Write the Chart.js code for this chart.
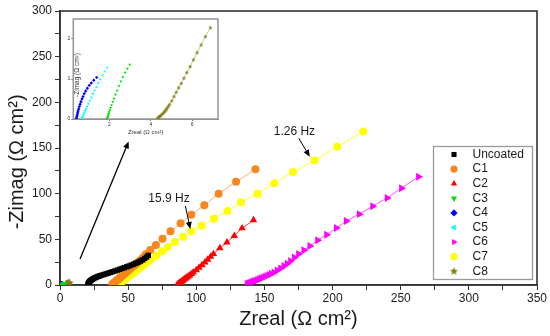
<!DOCTYPE html>
<html>
<head>
<meta charset="utf-8">
<script src="https://cdn.jsdelivr.net/npm/chart.js@4.4.1/dist/chart.umd.min.js"></script>
<style>
  body { margin: 0; background: #fff; }
  #wrap { position: relative; width: 550px; height: 336px; }
  #main { position: absolute; left: 0; top: 0; }
  #inset { position: absolute; left: 62px; top: 14px; }
</style>
</head>
<body>
<div id="wrap">
  <canvas id="main" width="550" height="336"></canvas>
  <canvas id="inset" width="160" height="126"></canvas>
</div>
<script>
// values (Ω cm²)
const uncoatedX = [20.5, 20.8, 21.2, 21.7, 22.3, 23, 23.8, 24.7, 25.7, 26.8, 28, 29.3, 30.7, 32.2, 33.8, 35.4, 37, 38.7, 40.4, 42.1, 43.8, 45.5, 47.2, 48.9, 50.6, 52.3, 54, 55.7, 57.4, 59, 60.6, 62.1, 63.5, 64.8]
const uncoatedY = [0.6, 1.7, 2.8, 3.8, 4.7, 5.5, 6.3, 7.1, 7.9, 8.7, 9.4, 10.1, 10.8, 11.5, 12.2, 13, 13.8, 14.6, 15.4, 16.3, 17.2, 18.1, 19, 19.9, 20.8, 21.8, 22.8, 23.9, 25, 26.2, 27.5, 29, 30.6, 32.4]

const c1X = [38.2, 38.6, 39.1, 39.7, 40.4, 41.2, 42, 42.9, 43.8, 44.8, 45.8, 46.9, 48, 49.2, 50.4, 51.7, 53, 54.4, 55.8, 57.3, 58.8, 60.4, 61.5, 63, 66.2, 70.4, 75.2, 81.1, 88.5, 96.3, 105.9, 116.4, 129.2, 143.4]
const c1Y = [0.3, 0.9, 1.6, 2.4, 3.3, 4.4, 5.4, 6.6, 7.8, 9.1, 10.4, 11.8, 13.2, 14.8, 16.3, 18, 19.6, 21.4, 23.2, 25, 26.9, 28.9, 30.3, 33.6, 38.3, 43.8, 50.7, 58.8, 67.6, 77, 87.3, 100, 113, 126.7]

const c2X = [86, 86.5, 87.1, 87.7, 88.3, 89, 89.7, 90.5, 91.3, 92.2, 93.1, 94.1, 95.2, 96.4, 97.8, 100, 102, 104.2, 106.3, 108.4, 110.5, 112.6, 117.3, 122.5, 127.9, 133.6, 142]
const c2Y = [0.3, 0.9, 1.6, 2.3, 3, 3.8, 4.6, 5.5, 6.4, 7.4, 8.4, 9.5, 10.7, 12.1, 13.8, 16.4, 19, 21.8, 24.8, 27.9, 31, 34, 40.4, 46.7, 53.9, 62.2, 71]

const c3X = [1.88, 1.9, 1.92, 1.94, 1.96, 1.98, 2.01, 2.05, 2.1, 2.16, 2.22, 2.29, 2.37, 2.46, 2.55, 2.65, 2.76, 2.87, 2.98]
const c3Y = [0.01, 0.03, 0.06, 0.09, 0.13, 0.17, 0.22, 0.28, 0.35, 0.43, 0.51, 0.61, 0.71, 0.83, 0.94, 1.05, 1.16, 1.26, 1.36]

const c4X = [0.4, 0.42, 0.44, 0.46, 0.48, 0.51, 0.54, 0.58, 0.62, 0.67, 0.72, 0.78, 0.85, 0.93, 1.02, 1.12, 1.24, 1.38]
const c4Y = [0.02, 0.06, 0.1, 0.15, 0.2, 0.25, 0.31, 0.37, 0.43, 0.5, 0.56, 0.63, 0.7, 0.77, 0.84, 0.9, 0.97, 1.04]

const c5X = [0.66, 0.68, 0.71, 0.74, 0.78, 0.82, 0.87, 0.92, 0.98, 1.05, 1.12, 1.2, 1.28, 1.37, 1.46, 1.56, 1.67, 1.78, 1.89]
const c5Y = [0.01, 0.04, 0.07, 0.11, 0.15, 0.2, 0.25, 0.31, 0.38, 0.46, 0.54, 0.63, 0.71, 0.8, 0.9, 0.99, 1.09, 1.19, 1.29]

const c6X = [137.3, 138, 138.8, 139.7, 140.6, 141.6, 142.6, 143.7, 144.9, 146.1, 147.4, 148.8, 150.3, 151.8, 153.4, 155.1, 157, 159.3, 161.8, 164.2, 166.7, 169.1, 172, 175, 178.9, 183.3, 189, 195.6, 202.7, 210, 219.5, 229.4, 240, 250.5, 263]
const c6Y = [0.8, 1.3, 1.8, 2.3, 2.9, 3.5, 4.1, 4.8, 5.5, 6.3, 7.1, 8, 9, 10, 11.1, 12.3, 13.8, 15.8, 18.2, 20.8, 23.3, 26.3, 30, 34, 38, 42.7, 49, 55.1, 62.4, 70, 77.6, 86.2, 95.3, 105.9, 118.6]

const c7X = [42.2, 42.6, 43.1, 43.7, 44.4, 45.2, 46, 46.9, 47.9, 48.9, 50, 51.1, 52.3, 53.5, 54.8, 56.1, 57.5, 58.9, 60.4, 61.9, 63.4, 65, 66.8, 70.8, 75, 79.2, 84.3, 90.4, 96.3, 103.9, 113, 122.8, 132.8, 144.9, 157.2, 171, 186.8, 203.4, 222.5]
const c7Y = [0.2, 0.6, 1.1, 1.8, 2.6, 3.5, 4.4, 5.4, 6.5, 7.7, 8.9, 10.2, 11.5, 12.9, 14.4, 15.9, 17.5, 19.1, 20.8, 22.5, 24.2, 26, 28.2, 32, 36.9, 41.6, 47, 52.9, 58.8, 65, 72.6, 81, 90.5, 100, 111.5, 123.8, 136.3, 151.5, 168]

const c8X = [4.32, 4.37, 4.42, 4.48, 4.53, 4.59, 4.64, 4.69, 4.74, 4.78, 4.84, 4.9, 5.01, 5.12, 5.23, 5.34, 5.47, 5.6, 5.74, 5.9, 6.06, 6.24, 6.43, 6.64, 6.88]
const c8Y = [0.02, 0.04, 0.06, 0.08, 0.11, 0.14, 0.17, 0.2, 0.23, 0.27, 0.31, 0.36, 0.45, 0.56, 0.67, 0.78, 0.89, 1.02, 1.16, 1.31, 1.48, 1.66, 1.85, 2.06, 2.28]

const xTickLabels = [0, 50, 100, 150, 200, 250, 300, 350]
const yTickLabels = [0, 50, 100, 150, 200, 250, 300]
const insetXTicks = [2, 4, 6]
const insetYTicks = [0, 1, 2]

const FONT = "'Liberation Sans', Arial, sans-serif"
Chart.defaults.font.family = FONT
Chart.defaults.color = '#1a1a1a'
Chart.defaults.animation = false

function pts(xs, ys) { return xs.map((x, i) => ({ x, y: ys[i] })) }

// major ticks plus one minor tick half way between
function withMinor(labels) {
  const out = []
  labels.forEach((v, i) => {
    out.push(v)
    if (i < labels.length - 1) out.push((v + labels[i + 1]) / 2)
  })
  return out
}

function makeStar(r, color) {
  const c = document.createElement('canvas')
  const s = Math.ceil(r * 2 + 2)
  c.width = s; c.height = s
  const g = c.getContext('2d')
  g.fillStyle = color
  g.beginPath()
  for (let i = 0; i < 10; i++) {
    const a = -Math.PI / 2 + i * Math.PI / 5
    const rr = i % 2 ? r * 0.45 : r
    g.lineTo(s / 2 + rr * Math.cos(a), s / 2 + rr * Math.sin(a))
  }
  g.closePath()
  g.fill()
  return c
}

const OLIVE = '#7d7d12'
const starBig = makeStar(4.2, OLIVE)
const starSmall = makeStar(2.2, OLIVE)

const look = {
  'Uncoated': { color: '#000000', style: 'rect', rot: 0, r: 3.8, line: '#000000' },
  'C1': { color: '#f7861f', style: 'circle', rot: 0, r: 4, line: '#f8ad74' },
  'C2': { color: '#ff0000', style: 'triangle', rot: 0, r: 4.3, line: '#ff3030' },
  'C3': { color: '#00e000', style: 'triangle', rot: 180, r: 3, line: null },
  'C4': { color: '#0000ff', style: 'rectRot', rot: 0, r: 3, line: null },
  'C5': { color: '#00ffff', style: 'triangle', rot: 270, r: 3, line: null },
  'C6': { color: '#ff00ff', style: 'triangle', rot: 90, r: 4.6, line: '#ff55ff' },
  'C7': { color: '#ffff00', style: 'circle', rot: 0, r: 4, line: '#ffff30' },
  'C8': { color: OLIVE, style: starBig, rot: 0, r: 4, line: '#b3b35a' }
}

const series = [
  ['Uncoated', uncoatedX, uncoatedY],
  ['C1', c1X, c1Y],
  ['C2', c2X, c2Y],
  ['C3', c3X, c3Y],
  ['C4', c4X, c4Y],
  ['C5', c5X, c5Y],
  ['C6', c6X, c6Y],
  ['C7', c7X, c7Y],
  ['C8', c8X, c8Y]
]

function makeSet(name, xs, ys, small) {
  const l = look[name]
  return {
    label: name,
    data: pts(xs, ys),
    showLine: !!l.line,
    borderColor: l.line || l.color,
    borderWidth: small ? 0.7 : 1,
    backgroundColor: l.color,
    pointBackgroundColor: l.color,
    pointBorderColor: l.color,
    pointBorderWidth: 0,
    pointStyle: small && l.style === starBig ? starSmall : l.style,
    pointRotation: l.rot,
    pointRadius: small ? 1.7 : l.r
  }
}

// annotation arrows / labels in data units
const arrowList = [
  { from: [14.7, 28.5], to: [50.4, 157.2], width: 1.3 },
  { from: [92, 86.5], to: [95.6, 61.3], width: 1 },
  { from: [175.2, 160.7], to: [183.3, 140.5], width: 1 }
]
const noteList = [
  { text: '15.9 Hz', at: [80, 94] },
  { text: '1.26 Hz', at: [172, 168] }
]

const framePlugin = {
  id: 'frame',
  beforeDatasetsDraw(chart, args, opts) {
    const { left, top, right, bottom } = chart.chartArea
    const ctx = chart.ctx
    ctx.save()
    ctx.strokeStyle = opts.color
    ctx.lineWidth = opts.width
    ctx.strokeRect(left, top, right - left, bottom - top)
    ctx.restore()
  }
}

const notesPlugin = {
  id: 'notes',
  afterDatasetsDraw(chart) {
    const ctx = chart.ctx
    const sx = chart.scales.x, sy = chart.scales.y
    ctx.save()
    ctx.strokeStyle = '#000'
    ctx.fillStyle = '#000'
    arrowList.forEach(a => {
      const x1 = sx.getPixelForValue(a.from[0]), y1 = sy.getPixelForValue(a.from[1])
      const x2 = sx.getPixelForValue(a.to[0]), y2 = sy.getPixelForValue(a.to[1])
      const ang = Math.atan2(y2 - y1, x2 - x1)
      ctx.lineWidth = a.width
      ctx.beginPath()
      ctx.moveTo(x1, y1)
      ctx.lineTo(x2 - 5 * Math.cos(ang), y2 - 5 * Math.sin(ang))
      ctx.stroke()
      ctx.beginPath()
      ctx.moveTo(x2, y2)
      ctx.lineTo(x2 - 7 * Math.cos(ang) + 3 * Math.sin(ang), y2 - 7 * Math.sin(ang) - 3 * Math.cos(ang))
      ctx.lineTo(x2 - 7 * Math.cos(ang) - 3 * Math.sin(ang), y2 - 7 * Math.sin(ang) + 3 * Math.cos(ang))
      ctx.closePath()
      ctx.fill()
    })
    ctx.font = '12px ' + FONT
    ctx.textAlign = 'center'
    ctx.textBaseline = 'middle'
    ctx.fillStyle = '#1a1a1a'
    noteList.forEach(n => {
      ctx.fillText(n.text, sx.getPixelForValue(n.at[0]), sy.getPixelForValue(n.at[1]))
    })
    ctx.restore()
  }
}

const legendPlugin = {
  id: 'legendBox',
  afterDraw(chart) {
    const ctx = chart.ctx
    ctx.save()
    ctx.fillStyle = '#fff'
    ctx.fillRect(433.5, 146.5, 99, 133)
    ctx.strokeStyle = '#9a9a9a'
    ctx.lineWidth = 1.3
    ctx.strokeRect(433.5, 146.5, 99, 133)
    ctx.font = '12px ' + FONT
    ctx.textBaseline = 'middle'
    chart.data.datasets.forEach((ds, i) => {
      const y = 154.5 + i * 14.6
      ctx.fillStyle = ds.pointBackgroundColor
      Chart.helpers.drawPoint(ctx, { pointStyle: ds.pointStyle, rotation: ds.pointRotation, radius: 3.6, borderWidth: 0 }, 454, y)
      ctx.fillStyle = '#1a1a1a'
      ctx.textAlign = 'left'
      ctx.fillText(ds.label, 472.5, y)
    })
    ctx.restore()
  }
}

const mainCfg = {
  type: 'scatter',
  data: { datasets: series.map(s => makeSet(s[0], s[1], s[2], false)) },
  options: {
    responsive: false,
    layout: { padding: { left: 0, right: 13, top: 11, bottom: 0 } },
    plugins: {
      legend: { display: false },
      tooltip: { enabled: false },
      frame: { color: '#333', width: 1.6 }
    },
    scales: {
      x: {
        type: 'linear', min: 0, max: 350,
        afterBuildTicks: s => { s.ticks = withMinor(xTickLabels).map(v => ({ value: v })) },
        afterFit: s => { s.height = 51 },
        ticks: { autoSkip: false, maxRotation: 0, padding: 1, font: { size: 12 },
          callback: v => xTickLabels.includes(v) ? String(v) : '' },
        grid: { drawOnChartArea: false, tickLength: 5, color: '#333' },
        border: { color: '#333', width: 1.6 },
        title: { display: true, text: 'Zreal (Ω cm²)', font: { size: 20 }, color: '#1a1a1a', padding: { top: 0, bottom: 5 } }
      },
      y: {
        type: 'linear', min: 0, max: 300,
        afterBuildTicks: s => { s.ticks = withMinor(yTickLabels).map(v => ({ value: v })) },
        afterFit: s => { s.width = 60 },
        ticks: { autoSkip: false, padding: 3, font: { size: 12 },
          callback: v => yTickLabels.includes(v) ? String(v) : '' },
        grid: { drawOnChartArea: false, tickLength: 5, color: '#333' },
        border: { color: '#333', width: 1.6 },
        title: { display: true, text: '-Zimag (Ω cm²)     ', font: { size: 20 }, color: '#1a1a1a', padding: { top: 5, bottom: 0 } }
      }
    }
  },
  plugins: [framePlugin, notesPlugin, legendPlugin]
}

new Chart(document.getElementById('main'), mainCfg)

// zoomed view of the small-impedance coatings
const insetTitle = {
  id: 'insetTitle',
  afterDraw(chart) {
    const ctx = chart.ctx
    const { left, top, bottom } = chart.chartArea
    ctx.save()
    ctx.translate(left + 4, top + 56)
    ctx.rotate(-Math.PI / 2)
    ctx.font = '6.5px ' + FONT
    ctx.textAlign = 'center'
    ctx.textBaseline = 'middle'
    ctx.fillStyle = '#333'
    ctx.fillText('-Zimag (Ω cm²)', 0, 0)
    ctx.restore()
  }
}

const insetSeries = series.filter(s => ['C3', 'C4', 'C5', 'C8'].includes(s[0]))

new Chart(document.getElementById('inset'), {
  type: 'scatter',
  data: { datasets: insetSeries.map(s => makeSet(s[0], s[1], s[2], true)) },
  options: {
    responsive: false,
    layout: { padding: { left: 0, right: 3.7, top: 5, bottom: 0 } },
    plugins: {
      legend: { display: false },
      tooltip: { enabled: false },
      frame: { color: '#9a9a9a', width: 1.6 }
    },
    scales: {
      x: {
        type: 'linear', min: 0.25, max: 7.25,
        afterBuildTicks: s => { s.ticks = insetXTicks.map(v => ({ value: v })) },
        afterFit: s => { s.height = 21 },
        ticks: { maxRotation: 0, padding: 1, font: { size: 5 }, color: '#333' },
        grid: { drawOnChartArea: false, tickLength: 2, color: '#777' },
        border: { color: '#777', width: 1 },
        title: { display: true, text: 'Zreal (Ω cm²)', font: { size: 6 }, color: '#333', padding: { top: 0, bottom: 4 } }
      },
      y: {
        type: 'linear', min: 0, max: 2.5,
        afterBuildTicks: s => { s.ticks = insetYTicks.map(v => ({ value: v })) },
        afterFit: s => { s.width = 11.3 },
        ticks: { padding: 1, font: { size: 5 }, color: '#333' },
        grid: { drawOnChartArea: false, tickLength: 2, color: '#777' },
        border: { color: '#777', width: 1 }
      }
    }
  },
  plugins: [framePlugin, insetTitle]
})
</script>
</body>
</html>
